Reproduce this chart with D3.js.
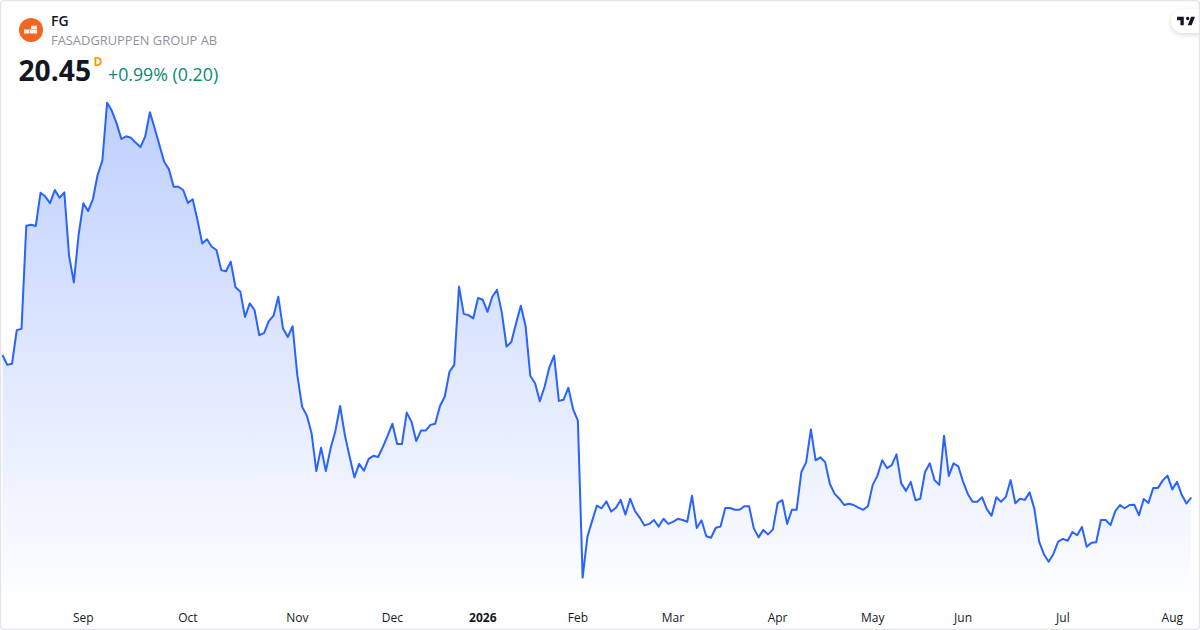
<!DOCTYPE html>
<html>
<head>
<meta charset="utf-8">
<script src="https://cdn.jsdelivr.net/npm/d3@7"></script>
<style>
  html, body { margin: 0; padding: 0; background: #fff; }
  svg { display: block; font-family: "Open Sans", sans-serif; }
  .tick text { font-size: 12px; fill: #131722; }
</style>
</head>
<body>
<svg id="chart" width="1200" height="630"></svg>
<script>
const closes = [
  25.20, 24.87, 24.91, 26.03, 26.07, 29.51, 29.54, 29.50, 30.61, 30.48,
  30.26, 30.70, 30.44, 30.62, 28.51, 27.62, 29.20, 30.26, 30.00, 30.39,
  31.20, 31.68, 33.61, 33.34, 32.92, 32.40, 32.49, 32.44, 32.28, 32.13,
  32.48, 33.29, 32.76, 32.20, 31.64, 31.39, 30.81, 30.81, 30.70, 30.27,
  30.39, 29.70, 28.92, 29.06, 28.81, 28.70, 28.03, 27.99, 28.31, 27.46,
  27.32, 26.47, 26.92, 26.70, 25.86, 25.93, 26.33, 26.51, 27.14, 26.08,
  25.80, 26.16, 24.53, 23.48, 23.18, 22.59, 21.33, 22.11, 21.33, 22.09,
  22.67, 23.50, 22.53, 21.81, 21.12, 21.57, 21.34, 21.74, 21.84, 21.80,
  22.14, 22.51, 22.91, 22.23, 22.23, 23.28, 22.98, 22.33, 22.68, 22.68,
  22.87, 22.91, 23.50, 23.81, 24.64, 24.87, 27.48, 26.57, 26.53, 26.42,
  27.10, 27.04, 26.64, 27.14, 27.37, 26.62, 25.48, 25.63, 26.26, 26.84,
  26.17, 24.50, 24.26, 23.66, 24.14, 24.79, 25.18, 23.67, 23.71, 24.11,
  23.39, 23.01, 17.78, 19.14, 19.67, 20.18, 20.09, 20.32, 19.98, 20.11,
  20.37, 19.88, 20.41, 20.00, 19.78, 19.52, 19.57, 19.70, 19.48, 19.74,
  19.57, 19.64, 19.74, 19.70, 19.64, 20.51, 19.43, 19.69, 19.16, 19.11,
  19.44, 19.48, 20.10, 20.10, 20.04, 20.04, 20.16, 20.16, 19.42, 19.12,
  19.37, 19.22, 19.38, 20.26, 20.36, 19.57, 20.04, 20.04, 21.30, 21.62,
  22.72, 21.69, 21.79, 21.63, 20.90, 20.57, 20.41, 20.20, 20.24, 20.20,
  20.11, 20.04, 20.16, 20.87, 21.18, 21.69, 21.43, 21.53, 21.89, 20.92,
  20.67, 20.97, 20.36, 20.41, 21.30, 21.59, 21.03, 20.87, 22.51, 21.17,
  21.59, 21.49, 20.98, 20.57, 20.31, 20.31, 20.46, 20.06, 19.84, 20.46,
  20.31, 20.47, 21.03, 20.26, 20.41, 20.37, 20.62, 20.07, 18.98, 18.56,
  18.31, 18.57, 18.98, 19.07, 19.01, 19.30, 19.19, 19.47, 18.81, 18.94,
  18.96, 19.70, 19.70, 19.53, 19.99, 20.20, 20.09, 20.20, 20.21, 19.86,
  20.40, 20.27, 20.77, 20.77, 21.02, 21.18, 20.72, 20.97, 20.53, 20.25,
  20.45
];
// bar index of the first session of each month
const monthBars = [17, 39, 62, 82, 101, 121, 141, 163, 183, 202, 223, 246];
const monthLabels = ['Sep', 'Oct', 'Nov', 'Dec', '2026', 'Feb', 'Mar', 'Apr', 'May', 'Jun', 'Jul', 'Aug'];

const width = 1200, height = 630;
const paneBottom = 600;

const svg = d3.select('#chart');

const x = d3.scaleLinear().domain([0, closes.length - 1]).range([2.5, 1191.3]);
const y = d3.scaleLinear().domain([18, 34]).range([571, 91]);

const grad = svg.append('defs').append('linearGradient')
  .attr('id', 'areaFill')
  .attr('gradientUnits', 'userSpaceOnUse')
  .attr('x1', 0).attr('x2', 0)
  .attr('y1', y(d3.max(closes))).attr('y2', paneBottom + 10);
grad.append('stop').attr('offset', 0).attr('stop-color', '#2962ff').attr('stop-opacity', 0.3);
grad.append('stop').attr('offset', 1).attr('stop-color', '#2962ff').attr('stop-opacity', 0);

const area = d3.area()
  .x((d, i) => x(i))
  .y0(paneBottom)
  .y1(d => y(d));

const line = d3.line()
  .x((d, i) => x(i))
  .y(d => y(d));

svg.append('path')
  .datum(closes)
  .attr('d', area)
  .attr('fill', 'url(#areaFill)');

svg.append('path')
  .datum(closes)
  .attr('d', line)
  .attr('fill', 'none')
  .attr('stroke', '#2962ff')
  .attr('stroke-width', 2)
  .attr('stroke-linejoin', 'round');

// time axis, labels only
const axis = d3.axisBottom(x)
  .tickValues(monthBars)
  .tickSize(0)
  .tickPadding(0)
  .offset(0)
  .tickFormat((d, i) => monthLabels[i]);

const axisG = svg.append('g')
  .attr('transform', 'translate(0,613)')
  .call(axis);
axisG.select('.domain').remove();
axisG.selectAll('.tick text')
  .style('font-family', '"Open Sans", sans-serif')
  .attr('dy', '0.71em')
  .filter((d, i) => monthLabels[i] === '2026')
  .style('font-weight', 700);

// header
const head = svg.append('g');
head.append('circle').attr('cx', 31).attr('cy', 30).attr('r', 12).attr('fill', '#f26522');
head.append('path')
  .attr('d', 'M24 29.6h5.2v3.8H24z M29.7 29.6h7.3v3.8h-7.3z M31 25.7h6v3.4h-6z')
  .attr('fill', '#fdf3ea');

head.append('text').attr('x', 51).attr('y', 26)
  .attr('font-size', 14).attr('font-weight', 600).attr('fill', '#131722')
  .text('FG');
head.append('text').attr('x', 51).attr('y', 45)
  .attr('font-size', 12.9).attr('fill', '#8f929b')
  .text('FASADGRUPPEN GROUP AB');
head.append('text').attr('x', 18.5).attr('y', 81)
  .attr('font-size', 28.2).attr('font-weight', 700).attr('fill', '#131722')
  .text('20.45');
head.append('text').attr('x', 93.5).attr('y', 66)
  .attr('font-size', 12).attr('font-weight', 700).attr('fill', '#ff9800')
  .text('D');
head.append('text').attr('x', 108).attr('y', 81)
  .attr('font-size', 17.75).attr('fill', '#0a8a72')
  .text('+0.99% (0.20)');

// tradingview badge
const shadow = svg.select('defs').append('filter')
  .attr('id', 'badgeShadow')
  .attr('x', '-30%').attr('y', '-30%').attr('width', '160%').attr('height', '170%');
shadow.append('feDropShadow')
  .attr('dx', 0).attr('dy', 2).attr('stdDeviation', 2.5)
  .attr('flood-color', '#000').attr('flood-opacity', 0.14);

svg.append('rect')
  .attr('x', 1171).attr('y', 9).attr('width', 50).attr('height', 24).attr('rx', 12)
  .attr('fill', '#fff')
  .attr('filter', 'url(#badgeShadow)');
svg.append('path')
  .attr('transform', 'translate(1175.9,13.4) scale(0.5625)')
  .attr('d', 'M14 6H2v6h6v9h6V6Zm14 15h-7l6-15h7l-6 15Zm-7-9a3 3 0 1 0 0-6 3 3 0 0 0 0 6Z')
  .attr('fill', '#131722');

// card frame
svg.append('rect')
  .attr('x', 0.5).attr('y', 0.5)
  .attr('width', width - 1).attr('height', height - 1)
  .attr('rx', 4)
  .attr('fill', 'none')
  .attr('stroke', '#e4e5e8')
  .attr('stroke-width', 1.5);
</script>
</body>
</html>
